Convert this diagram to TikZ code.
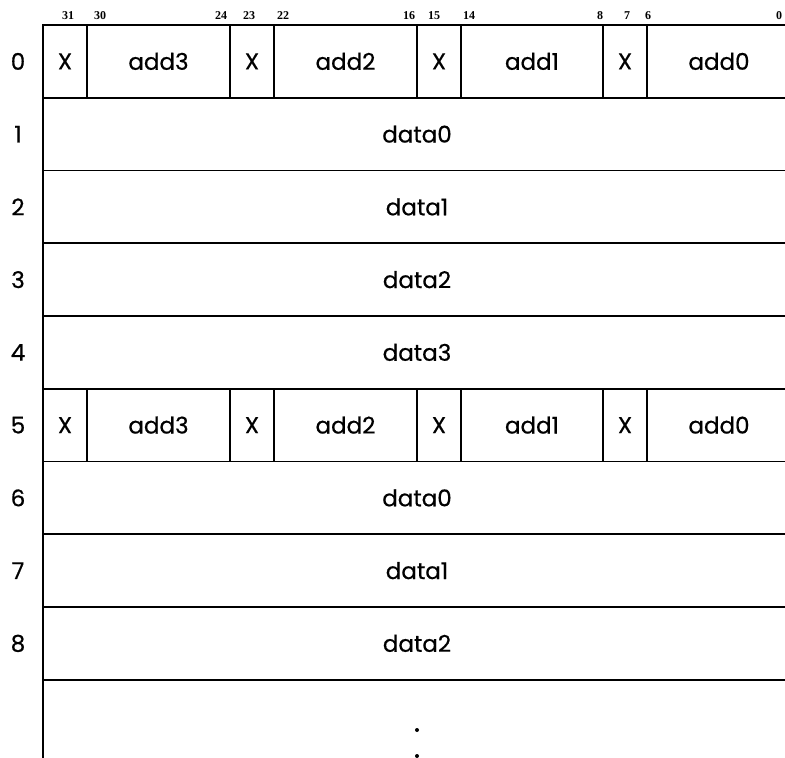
\documentclass[tikz,border=0pt]{standalone}
\usepackage{fontspec}
\usepackage{tikz}
\usetikzlibrary{positioning}
\setmainfont{Poppins}[FakeBold=0.6]
\newfontfamily\bitfont{Liberation Serif}

\tikzset{
  cell/.style={draw, line width=1.8pt, inner sep=0pt, outer sep=0pt, anchor=north west,
    minimum height=72.75pt, font=\fontsize{23}{23}\selectfont},
  rownum/.style={font=\fontsize{23}{23}\selectfont},
  bitnum/.style={font=\bitfont\bfseries\fontsize{12}{12}\selectfont}
}

\begin{document}
\begin{tikzpicture}[x=1pt, y=-1pt]
\useasboundingbox (0,0) rectangle (785,758);

% Bit positions along the top
\foreach \b/\x in {31/68, 30/100, 24/221, 23/249, 22/283, 16/409, 15/434, 14/469, 8/600, 7/627, 6/648, 0/779} {
    \node[bitnum] (b\b) at (\x,16) {\b};
}

% Address words: rows 0 and 5
\foreach \r/\t in {0/25, 5/388.75} {
    \node[cell, minimum width=44pt] (x3-\r) at (43,\t) {X};
    \node[cell, minimum width=143pt, right=0pt of x3-\r] (a3-\r) {add3};
    \node[cell, minimum width=44pt, right=0pt of a3-\r] (x2-\r) {X};
    \node[cell, minimum width=143pt, right=0pt of x2-\r] (a2-\r) {add2};
    \node[cell, minimum width=44pt, right=0pt of a2-\r] (x1-\r) {X};
    \node[cell, minimum width=142pt, right=0pt of x1-\r] (a1-\r) {add1};
    \node[cell, minimum width=44pt, right=0pt of a1-\r] (x0-\r) {X};
    \node[cell, minimum width=144pt, right=0pt of x0-\r] (a0-\r) {add0};
}

% Data words
\foreach \r/\t/\lbl in {1/97.75/data0, 2/170.5/data1, 3/243.25/data2, 4/316/data3,
                        6/461.5/data0, 7/534.25/data1, 8/607/data2} {
    \node[cell, minimum width=748pt] (w\r) at (43,\t) {\lbl};
}

% Row numbers
\foreach \r in {0,...,8} {
    \node[rownum] (n\r) at (18,{61.4+72.75*\r}) {\r};
}

% Open block at the bottom
\coordinate (more) at (w8.south west);
\draw[line width=1.8pt] (more) -- ++(0,80);
\fill (417,730) circle (2pt);
\fill (417,756) circle (2pt);

\end{tikzpicture}
\end{document}
